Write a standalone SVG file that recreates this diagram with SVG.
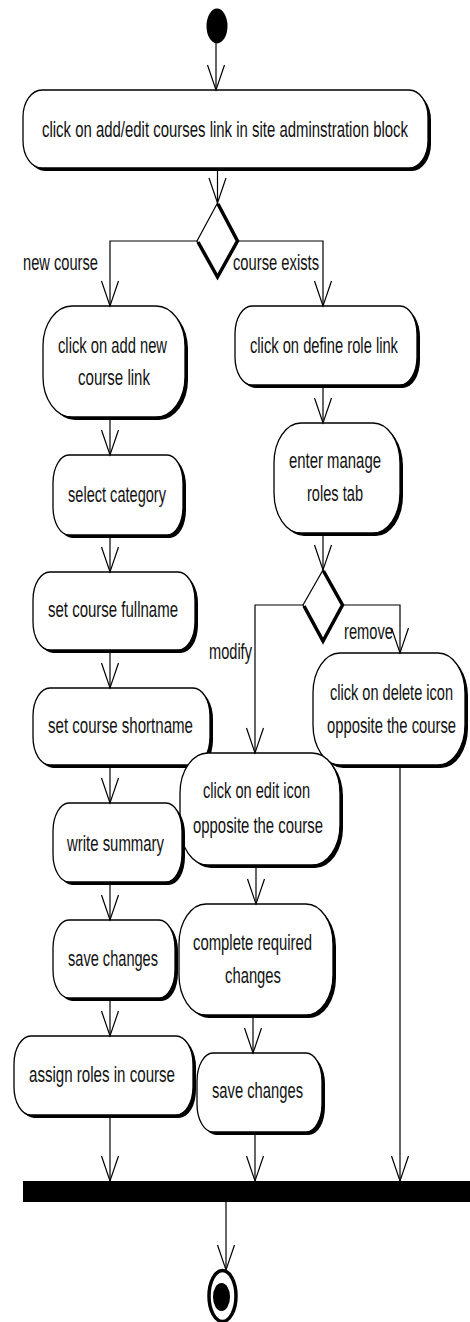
<svg xmlns="http://www.w3.org/2000/svg" width="470" height="1322" viewBox="0 0 470 1322">
  <style>
    .shadow { fill: #000; }
    .act { fill: #fff; stroke: #000; stroke-width: 1.3; }
    .lbl { font-family: "Liberation Sans", Arial, sans-serif; font-size: 21.5px; fill: #111; }
    .flow { fill: none; stroke: #000; stroke-width: 1.2; }
    .dia { fill: #fff; stroke: #000; stroke-width: 1.2; }
    .diaShade { fill: none; stroke: #000; stroke-width: 3.5; stroke-linejoin: miter; }
  </style>
  <defs>
    <marker id="open" markerUnits="userSpaceOnUse" markerWidth="40" markerHeight="40" refX="0" refY="0" orient="auto" overflow="visible">
      <path d="M-25,-8.5 L0,0 L-25,8.5" fill="none" stroke="#000" stroke-width="1.2"/>
    </marker>
  </defs>

  <rect width="470" height="1322" fill="#fff"/>

  <!-- initial state -->
  <g id="start">
    <ellipse cx="217" cy="26" rx="10.5" ry="17.5" fill="#000"/>
  </g>

  <!-- labels use a condensed face: horizontal scale 0.7, lengths given in the scaled units -->
  <g id="n-open-courses">
    <rect class="shadow" x="26" y="93" width="405" height="78" rx="19" ry="27"/>
    <rect class="act" x="23" y="90" width="405" height="78" rx="19" ry="27"/>
    <text class="lbl" transform="translate(42,137) scale(0.7,1)" textLength="522.9" lengthAdjust="spacingAndGlyphs">click on add/edit courses link in site adminstration block</text>
  </g>

  <g id="d-course">
    <polygon class="dia" points="217.5,203 238,241 217.5,278 197,241"/>
    <polyline class="diaShade" points="218,204 237.5,241 217.5,277 198,242"/>
  </g>

  <g id="n-add-new">
    <rect class="shadow" x="46" y="309" width="142" height="111" rx="29" ry="40"/>
    <rect class="act" x="43" y="306" width="142" height="111" rx="29" ry="40"/>
    <text class="lbl" transform="translate(58,353) scale(0.7,1)" textLength="155.7" lengthAdjust="spacingAndGlyphs">click on add new</text>
    <text class="lbl" transform="translate(78,385) scale(0.7,1)" textLength="102.9" lengthAdjust="spacingAndGlyphs">course link</text>
  </g>

  <g id="n-define-role">
    <rect class="shadow" x="238" y="309" width="182" height="79" rx="17" ry="28"/>
    <rect class="act" x="235" y="306" width="182" height="79" rx="17" ry="28"/>
    <text class="lbl" transform="translate(250,353) scale(0.7,1)" textLength="211.4" lengthAdjust="spacingAndGlyphs">click on define role link</text>
  </g>

  <g id="n-manage-roles">
    <rect class="shadow" x="277" y="426" width="126" height="110" rx="27" ry="40"/>
    <rect class="act" x="274" y="423" width="126" height="110" rx="27" ry="40"/>
    <text class="lbl" transform="translate(289,468) scale(0.7,1)" textLength="131.4" lengthAdjust="spacingAndGlyphs">enter manage</text>
    <text class="lbl" transform="translate(307,501) scale(0.7,1)" textLength="80" lengthAdjust="spacingAndGlyphs">roles tab</text>
  </g>

  <g id="n-category">
    <rect class="shadow" x="56" y="458" width="130" height="80" rx="16" ry="28"/>
    <rect class="act" x="53" y="455" width="130" height="80" rx="16" ry="28"/>
    <text class="lbl" transform="translate(68,502) scale(0.7,1)" textLength="140" lengthAdjust="spacingAndGlyphs">select category</text>
  </g>

  <g id="d-role-action">
    <polygon class="dia" points="323,570 343,605 323,642 303,605"/>
    <polyline class="diaShade" points="323.5,571 342.5,605 323,641 304,606"/>
  </g>

  <g id="n-fullname">
    <rect class="shadow" x="36" y="575" width="162" height="78" rx="17" ry="28"/>
    <rect class="act" x="33" y="572" width="162" height="78" rx="17" ry="28"/>
    <text class="lbl" transform="translate(48,617) scale(0.7,1)" textLength="185.7" lengthAdjust="spacingAndGlyphs">set course fullname</text>
  </g>

  <g id="n-delete">
    <rect class="shadow" x="316" y="656" width="152" height="112" rx="27" ry="40"/>
    <rect class="act" x="313" y="653" width="152" height="112" rx="27" ry="40"/>
    <text class="lbl" transform="translate(330,700) scale(0.7,1)" textLength="175.7" lengthAdjust="spacingAndGlyphs">click on delete icon</text>
    <text class="lbl" transform="translate(327,733) scale(0.7,1)" textLength="184.3" lengthAdjust="spacingAndGlyphs">opposite the course</text>
  </g>

  <g id="n-shortname">
    <rect class="shadow" x="36" y="691" width="177" height="77" rx="17" ry="28"/>
    <rect class="act" x="33" y="688" width="177" height="77" rx="17" ry="28"/>
    <text class="lbl" transform="translate(48,733) scale(0.7,1)" textLength="207.1" lengthAdjust="spacingAndGlyphs">set course shortname</text>
  </g>

  <g id="n-edit">
    <rect class="shadow" x="183" y="756" width="160" height="112" rx="28" ry="40"/>
    <rect class="act" x="180" y="753" width="160" height="112" rx="28" ry="40"/>
    <text class="lbl" transform="translate(203,798) scale(0.7,1)" textLength="152.9" lengthAdjust="spacingAndGlyphs">click on edit icon</text>
    <text class="lbl" transform="translate(193,833) scale(0.7,1)" textLength="185.7" lengthAdjust="spacingAndGlyphs">opposite the course</text>
  </g>

  <g id="n-summary">
    <rect class="shadow" x="56" y="806" width="129" height="79" rx="16" ry="28"/>
    <rect class="act" x="53" y="803" width="129" height="79" rx="16" ry="28"/>
    <text class="lbl" transform="translate(67,851) scale(0.7,1)" textLength="138.6" lengthAdjust="spacingAndGlyphs">write summary</text>
  </g>

  <g id="n-complete">
    <rect class="shadow" x="182" y="907" width="154" height="111" rx="27" ry="40"/>
    <rect class="act" x="179" y="904" width="154" height="111" rx="27" ry="40"/>
    <text class="lbl" transform="translate(193,950) scale(0.7,1)" textLength="170" lengthAdjust="spacingAndGlyphs">complete required</text>
    <text class="lbl" transform="translate(225,983) scale(0.7,1)" textLength="80" lengthAdjust="spacingAndGlyphs">changes</text>
  </g>

  <g id="n-save-new">
    <rect class="shadow" x="56" y="923" width="122" height="78" rx="16" ry="28"/>
    <rect class="act" x="53" y="920" width="122" height="78" rx="16" ry="28"/>
    <text class="lbl" transform="translate(68,966) scale(0.7,1)" textLength="128.6" lengthAdjust="spacingAndGlyphs">save changes</text>
  </g>

  <g id="n-assign-roles">
    <rect class="shadow" x="17" y="1039" width="179" height="79" rx="17" ry="28"/>
    <rect class="act" x="14" y="1036" width="179" height="79" rx="17" ry="28"/>
    <text class="lbl" transform="translate(29,1082) scale(0.7,1)" textLength="208.6" lengthAdjust="spacingAndGlyphs">assign roles in course</text>
  </g>

  <g id="n-save-edit">
    <rect class="shadow" x="200" y="1056" width="125" height="79" rx="16" ry="28"/>
    <rect class="act" x="197" y="1053" width="125" height="79" rx="16" ry="28"/>
    <text class="lbl" transform="translate(212,1098) scale(0.7,1)" textLength="130" lengthAdjust="spacingAndGlyphs">save changes</text>
  </g>

  <!-- synchronisation bar -->
  <g id="join">
    <rect x="23" y="1181" width="447" height="21" fill="#000"/>
  </g>

  <!-- final state -->
  <g id="end">
    <ellipse cx="222.5" cy="1296" rx="13.5" ry="25.5" fill="#fff" stroke="#000" stroke-width="3.5"/>
    <ellipse cx="221.5" cy="1297" rx="8.5" ry="14" fill="#000"/>
  </g>

  <!-- guard labels -->
  <g id="guards">
    <text class="lbl" transform="translate(23,270) scale(0.7,1)" textLength="107.1" lengthAdjust="spacingAndGlyphs">new course</text>
    <text class="lbl" transform="translate(233,270) scale(0.7,1)" textLength="122.9" lengthAdjust="spacingAndGlyphs">course exists</text>
    <text class="lbl" transform="translate(209,659) scale(0.7,1)" textLength="61.4" lengthAdjust="spacingAndGlyphs">modify</text>
    <text class="lbl" transform="translate(344,639) scale(0.7,1)" textLength="70" lengthAdjust="spacingAndGlyphs">remove</text>
  </g>

  <g id="connectors">
    <path class="flow" d="M216,43 V90" marker-end="url(#open)"/>
    <path class="flow" d="M217.5,168 V203" marker-end="url(#open)"/>
    <path class="flow" d="M197,241 H110 V306" marker-end="url(#open)"/>
    <path class="flow" d="M238,241 H323 V306" marker-end="url(#open)"/>
    <path class="flow" d="M323,385 V423" marker-end="url(#open)"/>
    <path class="flow" d="M323,533 V570" marker-end="url(#open)"/>
    <path class="flow" d="M303,605 H255 V753" marker-end="url(#open)"/>
    <path class="flow" d="M343,605 H400 V653" marker-end="url(#open)"/>
    <path class="flow" d="M400,765 V1181" marker-end="url(#open)"/>
    <path class="flow" d="M110,417 V455" marker-end="url(#open)"/>
    <path class="flow" d="M110,535 V572" marker-end="url(#open)"/>
    <path class="flow" d="M110,650 V688" marker-end="url(#open)"/>
    <path class="flow" d="M110,765 V803" marker-end="url(#open)"/>
    <path class="flow" d="M110,882 V920" marker-end="url(#open)"/>
    <path class="flow" d="M110,998 V1036" marker-end="url(#open)"/>
    <path class="flow" d="M110,1115 V1181" marker-end="url(#open)"/>
    <path class="flow" d="M256,865 V904" marker-end="url(#open)"/>
    <path class="flow" d="M253,1015 V1053" marker-end="url(#open)"/>
    <path class="flow" d="M255,1132 V1181" marker-end="url(#open)"/>
    <path class="flow" d="M226,1202 V1270" marker-end="url(#open)"/>
  </g>
</svg>
